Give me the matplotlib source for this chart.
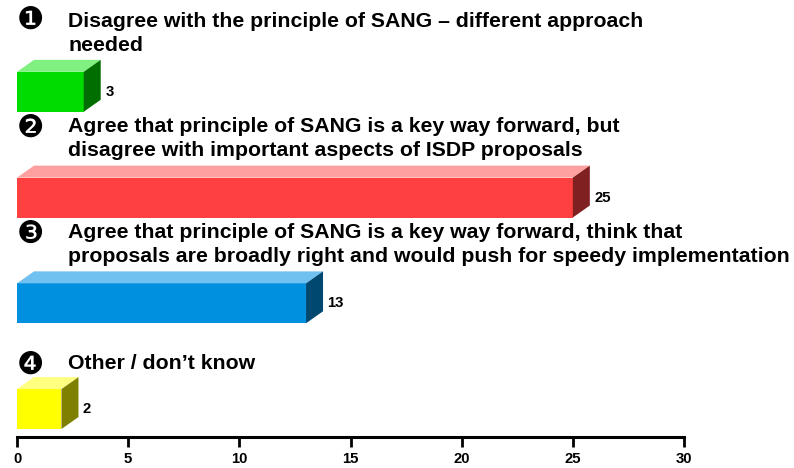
import matplotlib
matplotlib.use("Agg")
import matplotlib.pyplot as plt
from matplotlib.patches import Polygon

categories = [
    "Disagree with the principle of SANG \u2013 different approach\nneeded",
    "Agree that principle of SANG is a key way forward, but\ndisagree with important aspects of ISDP proposals",
    "Agree that principle of SANG is a key way forward, think that\nproposals are broadly right and would push for speedy implementation",
    "Other / don\u2019t know",
]
markers = ["\u2776", "\u2777", "\u2778", "\u2779"]
values = [3, 25, 13, 2]
front_colors = ["#00DC00", "#FF4040", "#0090E0", "#FFFF00"]
top_colors = ["#80F080", "#FFA0A0", "#70C0F0", "#FFFF80"]
side_colors = ["#006E00", "#802020", "#004870", "#808000"]
xticks = [0, 5, 10, 15, 20, 25, 30]

W, H = 794, 468
fig = plt.figure(figsize=(W / 100, H / 100), dpi=100)
L, R, AX = 17, 684, 436.5
ax = fig.add_axes([L / W, (H - AX) / H, (R - L) / W, AX / H])
ax.set_xlim(0, 30)
SP = 106.0
ax.set_ylim(3 + (AX - 409) / SP, -92 / SP)
for s in ("top", "left", "right"):
    ax.spines[s].set_visible(False)
ax.spines["bottom"].set_linewidth(2.2)
ax.set_yticks([])
ax.set_xticks(xticks)
ax.tick_params(axis="x", length=7, width=2, pad=4)
for t in ax.get_xticklabels():
    t.set_fontfamily("Liberation Sans")
    t.set_fontweight("bold")
    t.set_fontsize(10.7)

ux = 30 / (R - L)
uy = 1 / SP
dx, dy = 17 * ux, 12 * uy
h = 40 / SP
for i, v in enumerate(values):
    ax.barh(i, v, height=h, color=front_colors[i], linewidth=0, clip_on=False)
    t, b = i - h / 2, i + h / 2
    ax.add_patch(Polygon([(0, t), (v, t), (v + dx, t - dy), (dx, t - dy)],
                         closed=True, fc=top_colors[i], ec="none", clip_on=False))
    ax.add_patch(Polygon([(v, t), (v + dx, t - dy), (v + dx, b - dy), (v, b)],
                         closed=True, fc=side_colors[i], ec="none", clip_on=False))
    ax.text(v + dx + 4.5 * ux, i, str(v),
            family="Liberation Sans", weight="bold", fontsize=10.7, va="center", ha="left")

label_top = [12, 117, 223, 354]
marker_y = [20.5, 128, 234, 365]
for lab, m, ly, my in zip(categories, markers, label_top, marker_y):
    fig.text(68 / W, 1 - ly / H, lab, family="Liberation Sans", weight="bold",
             fontsize=15.3, va="top", ha="left", linespacing=1.32, color="black")
    fig.text(30 / W, 1 - my / H, m, family="DejaVu Sans", fontsize=22,
             va="center", ha="center", color="black")

fig.savefig("out.png", dpi=100)
